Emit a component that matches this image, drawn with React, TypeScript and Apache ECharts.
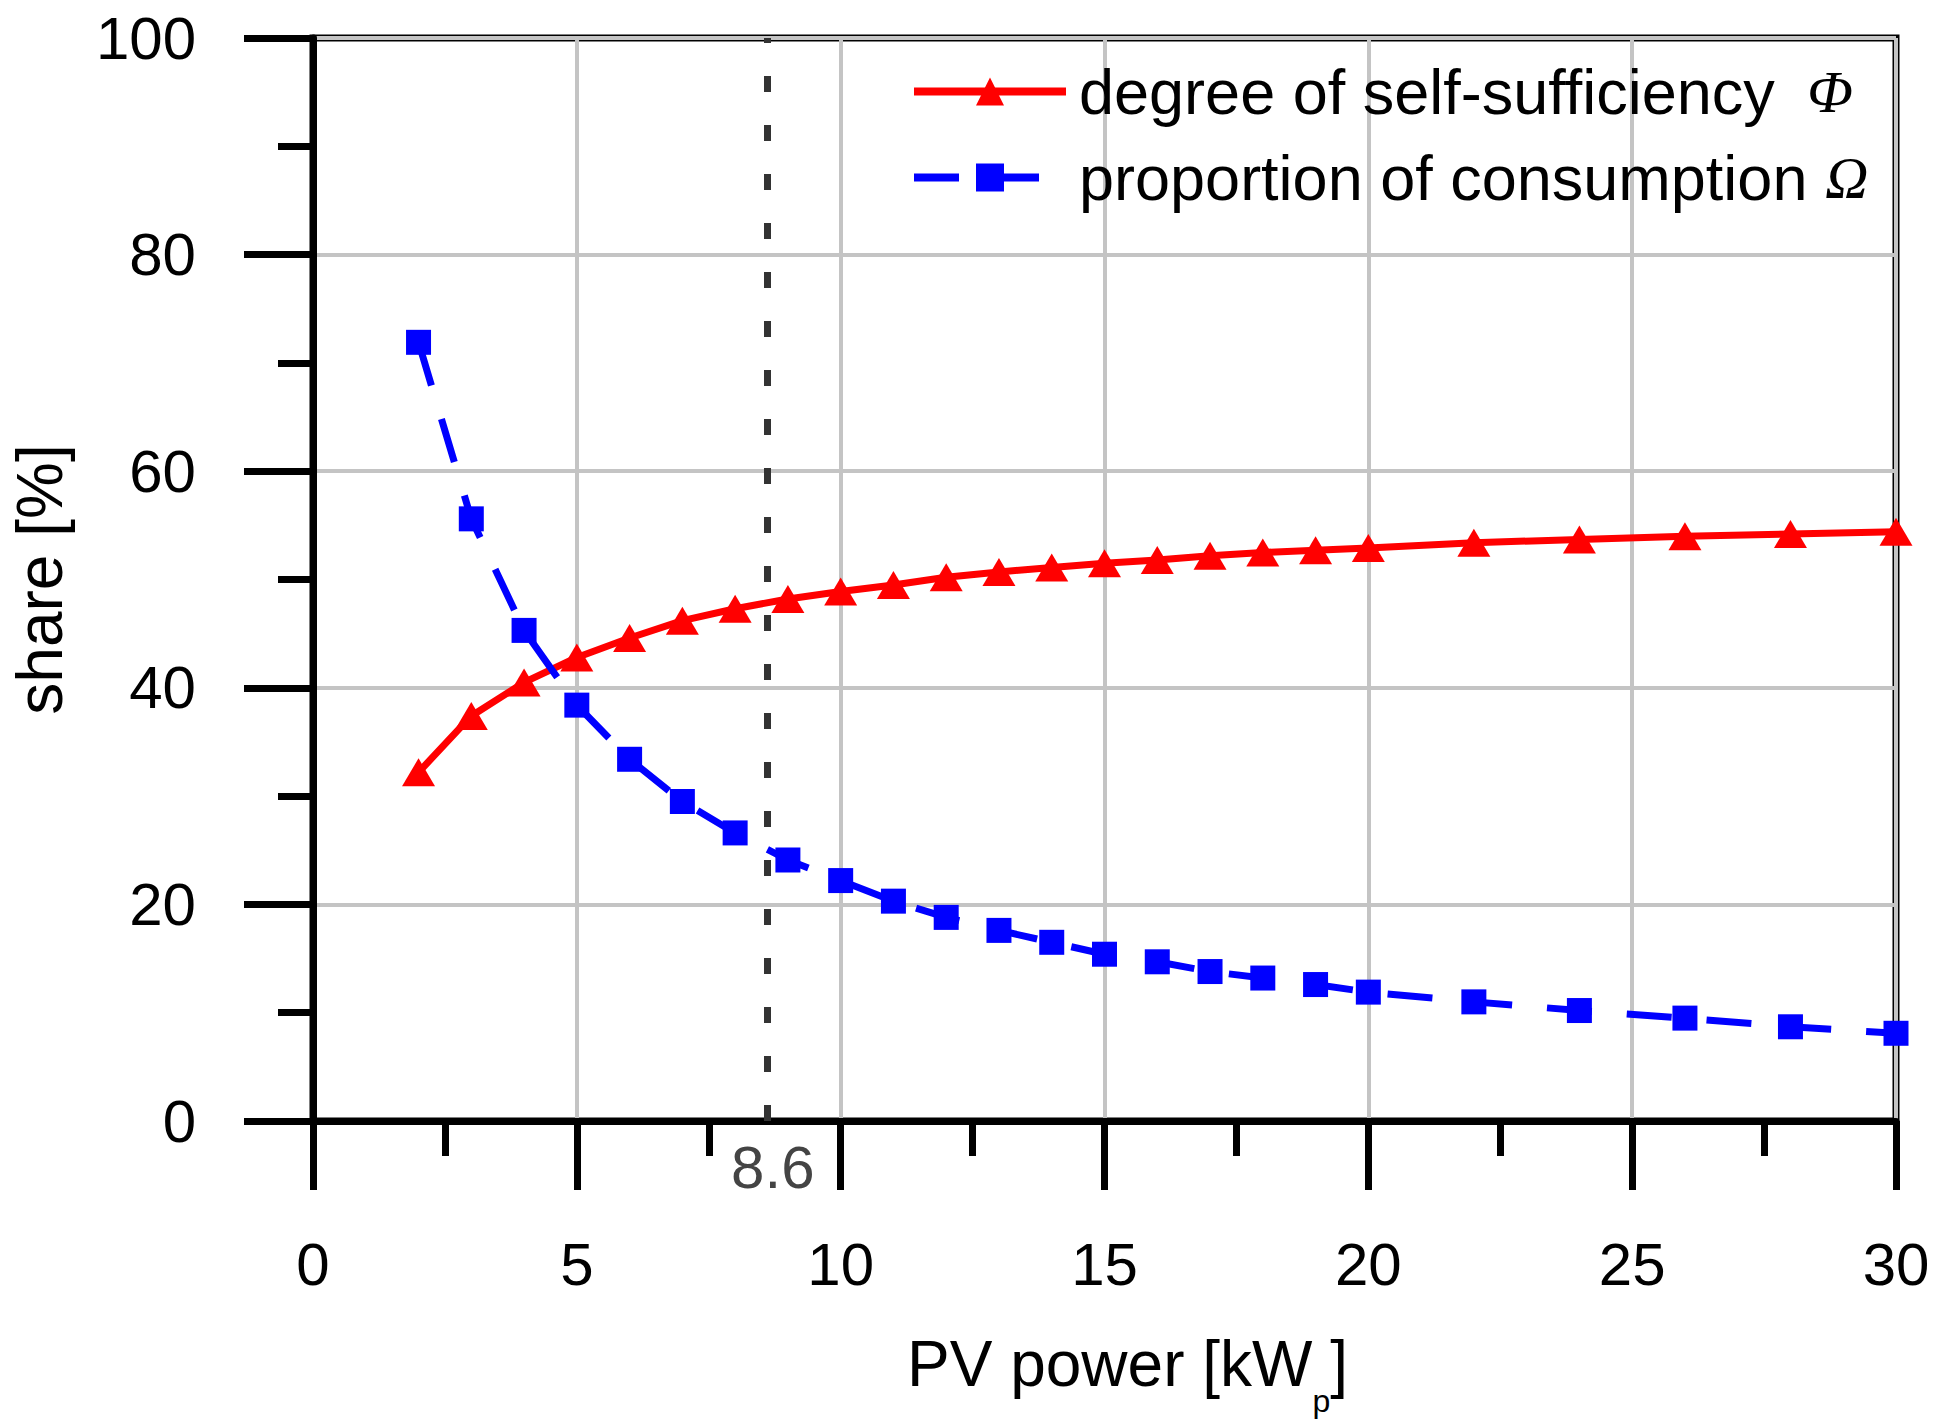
import React, { useEffect, useRef } from "react";
import * as echarts from "echarts";

// PV power [kWp]
const PV_POWER = [2, 3, 4, 5, 6, 7, 8, 9, 10, 11, 12, 13, 14, 15, 16, 17, 18, 19, 20, 22, 24, 26, 28, 30];
// degree of self-sufficiency Φ [%]
const SELF_SUFFICIENCY = [32.2, 37.4, 40.5, 42.8, 44.6, 46.2, 47.3, 48.2, 48.9, 49.5, 50.2, 50.7, 51.1, 51.5, 51.8, 52.2, 52.5, 52.7, 52.9, 53.4, 53.7, 54.0, 54.2, 54.4];
// proportion of consumption Ω [%]
const CONSUMPTION = [71.9, 55.6, 45.3, 38.4, 33.4, 29.5, 26.6, 24.1, 22.2, 20.3, 18.8, 17.6, 16.5, 15.4, 14.7, 13.8, 13.2, 12.6, 11.9, 11.0, 10.2, 9.5, 8.7, 8.1];

const MARKER_X = 8.6;
const MARKER_LABEL = "8.6";

const X_MIN = 0;
const X_MAX = 30;
const X_STEP = 5;
const Y_MIN = 0;
const Y_MAX = 100;
const Y_STEP = 20;

const NAME_PHI = "degree of self-sufficiency Φ";
const NAME_OMEGA = "proportion of consumption Ω";

const FONT = "'Liberation Sans', Arial, Helvetica, sans-serif";
const SERIF = "'Liberation Serif', 'DejaVu Serif', serif";

export default function App() {
  const ref = useRef<HTMLDivElement>(null);

  useEffect(() => {
    if (!ref.current) return;
    const chart = echarts.init(ref.current, null, { renderer: "svg" });

    const axisCommon = {
      type: "value" as const,
      nameLocation: "middle" as const,
      axisLine: { show: true, onZero: false, lineStyle: { color: "#000", width: 7 } },
      axisTick: { show: true, length: 69, lineStyle: { color: "#000", width: 7 } },
      minorTick: { show: true, splitNumber: 2, length: 35, lineStyle: { color: "#000", width: 7 } },
      splitLine: { show: true, lineStyle: { color: "#c4c4c4", width: 4 } },
      minorSplitLine: { show: false },
    };

    const option = {
      animation: false,
      backgroundColor: "#ffffff",
      textStyle: { fontFamily: FONT },
      grid: {
        left: 312,
        top: 38,
        width: 1584,
        height: 1090,
        show: true,
        borderColor: "#000",
        borderWidth: 7,
        backgroundColor: "transparent",
      },
      legend: {
        orient: "vertical",
        left: 905,
        top: 55,
        itemWidth: 152,
        itemHeight: 35,
        itemGap: 23,
        selectedMode: false,
        data: [NAME_PHI, NAME_OMEGA],
        lineStyle: { width: 8 },
        formatter: (name: string) =>
          name === NAME_PHI
            ? "{t|degree of self-sufficiency} {g| Φ}"
            : "{t|proportion of consumption} {g|Ω}",
        textStyle: {
          fontSize: 63,
          color: "#000",
          padding: [0, 0, 0, 8],
          rich: {
            t: { fontSize: 63, color: "#000", fontFamily: FONT },
            g: { fontSize: 60, color: "#000", fontFamily: SERIF, fontStyle: "italic" },
          },
        },
      },
      xAxis: {
        ...axisCommon,
        min: X_MIN,
        max: X_MAX,
        interval: X_STEP,
        name: "PV power [kW{sub|p}]",
        nameGap: 190,
        nameTextStyle: {
          fontSize: 64,
          color: "#000",
          fontFamily: FONT,
          padding: [0, 0, 0, 46],
          rich: {
            sub: { fontSize: 32, color: "#000", fontFamily: FONT, padding: [74, 0, 0, 0], verticalAlign: "top" },
          },
        },
        axisLabel: { margin: 113, fontSize: 60, color: "#000", fontFamily: FONT },
      },
      yAxis: {
        ...axisCommon,
        min: Y_MIN,
        max: Y_MAX,
        interval: Y_STEP,
        name: "share [%]",
        nameGap: 241,
        nameTextStyle: { fontSize: 64, color: "#000", fontFamily: FONT },
        axisLabel: { margin: 117, fontSize: 60, color: "#000", fontFamily: FONT },
      },
      series: [
        {
          name: NAME_PHI,
          type: "line",
          data: PV_POWER.map((x, i) => [x, SELF_SUFFICIENCY[i]]),
          symbol: "triangle",
          symbolSize: [33, 28],
          itemStyle: { color: "#ff0000" },
          lineStyle: { color: "#ff0000", width: 7 },
          z: 3,
        },
        {
          name: NAME_OMEGA,
          type: "line",
          data: PV_POWER.map((x, i) => [x, CONSUMPTION[i]]),
          symbol: "rect",
          symbolSize: 25,
          itemStyle: { color: "#0000ff" },
          lineStyle: { color: "#0000ff", width: 7, type: [45, 35] },
          z: 4,
          markLine: {
            silent: true,
            symbol: ["none", "none"],
            lineStyle: { color: "#333333", width: 7, type: [16, 33] },
            label: {
              show: true,
              position: "start",
              formatter: MARKER_LABEL,
              fontSize: 60,
              color: "#444444",
              fontFamily: FONT,
              distance: 16,
              padding: [0, 0, 0, 12],
            },
            data: [{ xAxis: MARKER_X }],
          },
        },
      ],
    };

    chart.setOption(option as any);
    return () => chart.dispose();
  }, []);

  return (
    <div
      ref={ref}
      style={{ position: "absolute", left: 0, top: 0, width: 1941, height: 1422, background: "#fff" }}
    />
  );
}
